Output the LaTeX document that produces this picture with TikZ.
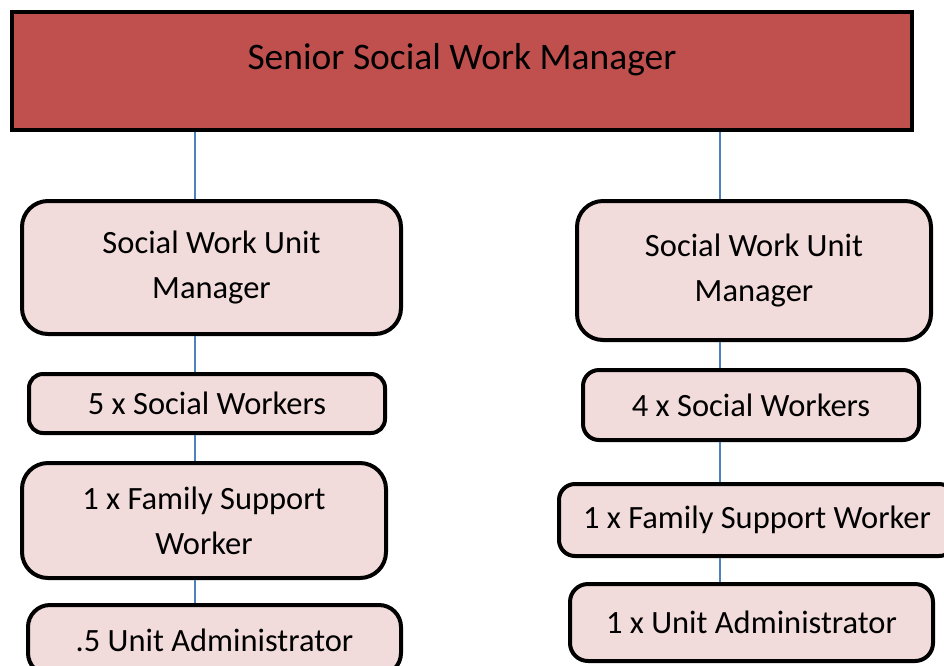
\documentclass[tikz,border=0pt]{standalone}
\usepackage{fontspec}
\setmainfont{Carlito}
\definecolor{topred}{HTML}{C0504D}
\definecolor{boxpink}{HTML}{F2DCDB}
\definecolor{linkblue}{HTML}{4F81BD}
\begin{document}
\begin{tikzpicture}[x=1pt,y=-1pt,
  topbox/.style={draw=black, line width=4pt, fill=topred, inner xsep=0pt, inner ysep=0pt,
    minimum width=900pt, text height=57pt, text depth=61pt, anchor=north,
    font=\fontsize{37.5}{44}\selectfont},
  unitbox/.style={draw=black, line width=4pt, fill=boxpink, rounded corners=#1, align=center,
    inner sep=0pt, font=\fontsize{32.5}{45}\selectfont},
  unitbox/.default=14pt,
  link/.style={draw=linkblue, line width=1.5pt}]
\useasboundingbox (0,0) rectangle (944,665);
\node[topbox] (top) at (462,10) {Senior Social Work Manager};
% left column
\node[unitbox=26pt, minimum width=379pt, minimum height=133pt] (l1) at (211.5,267.5) {Social Work Unit\\Manager};
\node[unitbox=14pt, minimum width=356pt, minimum height=59pt] (l2) at (207,403.5) {5 x Social Workers};
\node[unitbox=26pt, minimum width=364pt, minimum height=115pt] (l3) at (204,520.5) {1 x Family Support\\Worker};
\node[unitbox=22pt, minimum width=373pt, minimum height=70pt] (l4) at (214.5,640) {.5 Unit Administrator};
% right column
\node[unitbox=26pt, minimum width=354pt, minimum height=139pt] (r1) at (754,270.5) {Social Work Unit\\Manager};
\node[unitbox=16pt, minimum width=336pt, minimum height=70pt] (r2) at (751,405) {4 x Social Workers};
\node[unitbox=16pt, minimum width=396pt, minimum height=72pt] (r3) at (757,520) {1 x Family Support Worker};
\node[unitbox=18pt, minimum width=363pt, minimum height=77pt] (r4) at (751.5,622.5) {1 x Unit Administrator};
% connectors
\coordinate (cl) at (195,0);
\coordinate (cr) at (720,0);
\draw[link] (top.south -| cl) -- (l1.north -| cl);
\draw[link] (l1.south -| cl) -- (l2.north -| cl);
\draw[link] (l2.south -| cl) -- (l3.north -| cl);
\draw[link] (l3.south -| cl) -- (l4.north -| cl);
\draw[link] (top.south -| cr) -- (r1.north -| cr);
\draw[link] (r1.south -| cr) -- (r2.north -| cr);
\draw[link] (r2.south -| cr) -- (r3.north -| cr);
\draw[link] (r3.south -| cr) -- (r4.north -| cr);
\end{tikzpicture}
\end{document}
